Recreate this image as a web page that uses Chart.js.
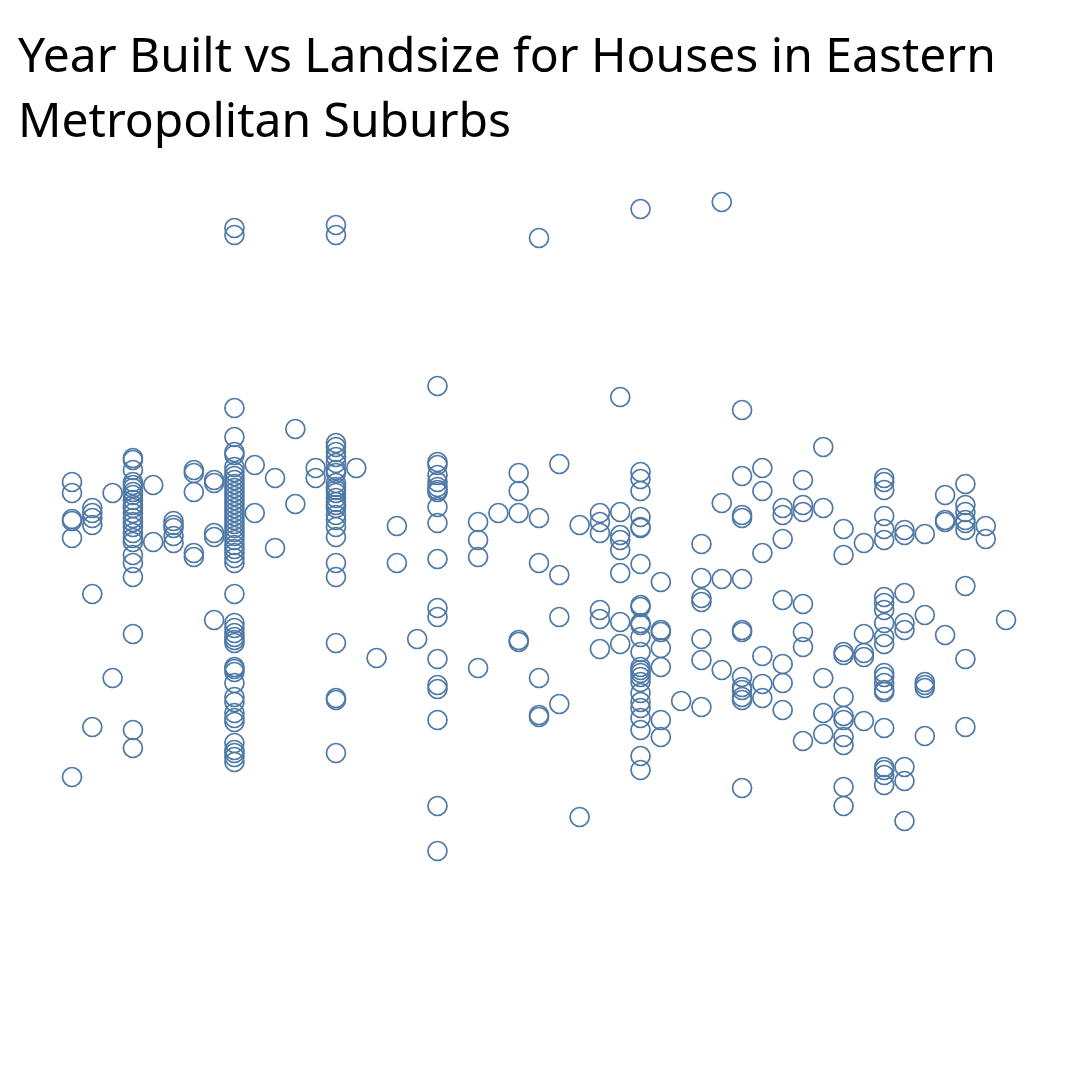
<!DOCTYPE html>
<html>
<head>
<meta charset="utf-8">
<script src="https://cdn.jsdelivr.net/npm/chart.js@4/dist/chart.umd.min.js"></script>
<style>
  html, body { margin: 0; padding: 0; background: #ffffff; }
  #wrap { position: relative; width: 1080px; height: 1080px; }
  #title { position: absolute; left: 18px; top: 21px; width: 1060px; font-family: "Noto Sans", sans-serif; font-size: 48px; line-height: 65px; color: #000; white-space: nowrap; }
  canvas { position: absolute; left: 0; top: 0; }
</style>
</head>
<body>
<div id="wrap">
  <canvas id="c" width="1080" height="1080"></canvas>
  <div id="title"></div>
</div>
<script>
const titleLines = ["Year Built vs Landsize for Houses in Eastern", "Metropolitan Suburbs"];
const years = [1962,1963,1964,1965,1966,1967,1968,1969,1970,1971,1972,1973,1974,1975,1976,1977,1978,1979,1980,1982,1983,1984,1985,1986,1987,1988,1989,1990,1991,1992,1993,1994,1995,1996,1997,1998,1999,2000,2001,2002,2003,2004,2005,2006,2007,2008];
const landsizeByYear = [
  [836,814,762,758,724,246],
  [784,774,764,750,612,346],
  [814,444],
  [884,880,860,836,830,824,816,810,800,790,784,774,764,756,746,734,724,716,690,674,646,532,340,304],
  [830,716],
  [758,750,744,728,714],
  [860,854,816,694,686],
  [840,834,734,726,560],
  [1344,1330,984,926,896,890,866,856,848,840,832,824,816,808,800,792,784,776,768,760,752,744,736,728,720,710,702,694,684,674,612,554,544,534,526,520,514,466,462,456,434,406,396,374,364,356,314,300,294,286,276],
  [870,774],
  [844,704],
  [942,792],
  [864,844],
  [1350,1330,914,906,896,886,874,860,854,834,826,820,814,804,796,790,784,770,760,746,726,674,646,514,404,400,294],
  [864],
  [484],
  [748,674],
  [522],
  [1028,876,870,850,836,826,820,816,786,754,682,584,566,482,430,422,360,188,98],
  [756,720,686,464],
  [774],
  [854,818,774,520,516],
  [1324,764,674,444,370,366],
  [872,650,566,392],
  [750,166],
  [774,756,734,580,562,502],
  [1006,776,730,720,700,654,556,512],
  [1382,856,842,818,766,746,744,672,590,586,554,550,526,496,466,460,454,446,436,414,396,384,364,340,288,260],
  [636,540,536,504,466,360,326],
  [398],
  [712,644,604,596,522,480,386],
  [1396,794,642,460],
  [980,848,770,764,642,540,536,446,426,420,406,400,224],
  [864,818,694,488,432,404],
  [784,770,722,600,472,434,380],
  [840,790,776,592,536,506,318],
  [906,784,444,374,332],
  [742,690,496,490,406,368,360,326,310,226,188],
  [714,532,494,486,358],
  [844,836,820,768,742,720,606,594,580,554,526,512,454,446,434,420,416,344,266,260,250,230],
  [740,730,614,554,540,266,238,158],
  [732,570,436,430,424,328],
  [810,760,756,530],
  [832,790,776,760,754,740,628,482,346],
  [748,722],
  [560]
];

const titleEl = document.getElementById('title');
titleLines.forEach((t, i) => {
  if (i > 0) titleEl.appendChild(document.createElement('br'));
  titleEl.appendChild(document.createTextNode(t));
});

const points = [];
years.forEach((yr, i) => {
  landsizeByYear[i].forEach(v => points.push({ x: yr, y: v }));
});

new Chart(document.getElementById('c'), {
  type: 'scatter',
  data: {
    datasets: [{
      label: 'Landsize',
      data: points,
      pointStyle: 'circle',
      pointRadius: 9.5,
      pointHoverRadius: 9.5,
      borderWidth: 1.7,
      borderColor: '#4e79a7',
      backgroundColor: 'rgba(0,0,0,0)'
    }]
  },
  options: {
    responsive: false,
    animation: false,
    layout: { padding: 0, autoPadding: false },
    plugins: { legend: { display: false }, tooltip: { enabled: false }, title: { display: false } },
    scales: {
      x: { type: 'linear', display: false, min: 1958.454, max: 2011.644 },
      y: { type: 'linear', display: false, min: -360, max: 1800 }
    }
  }
});
</script>
</body>
</html>
